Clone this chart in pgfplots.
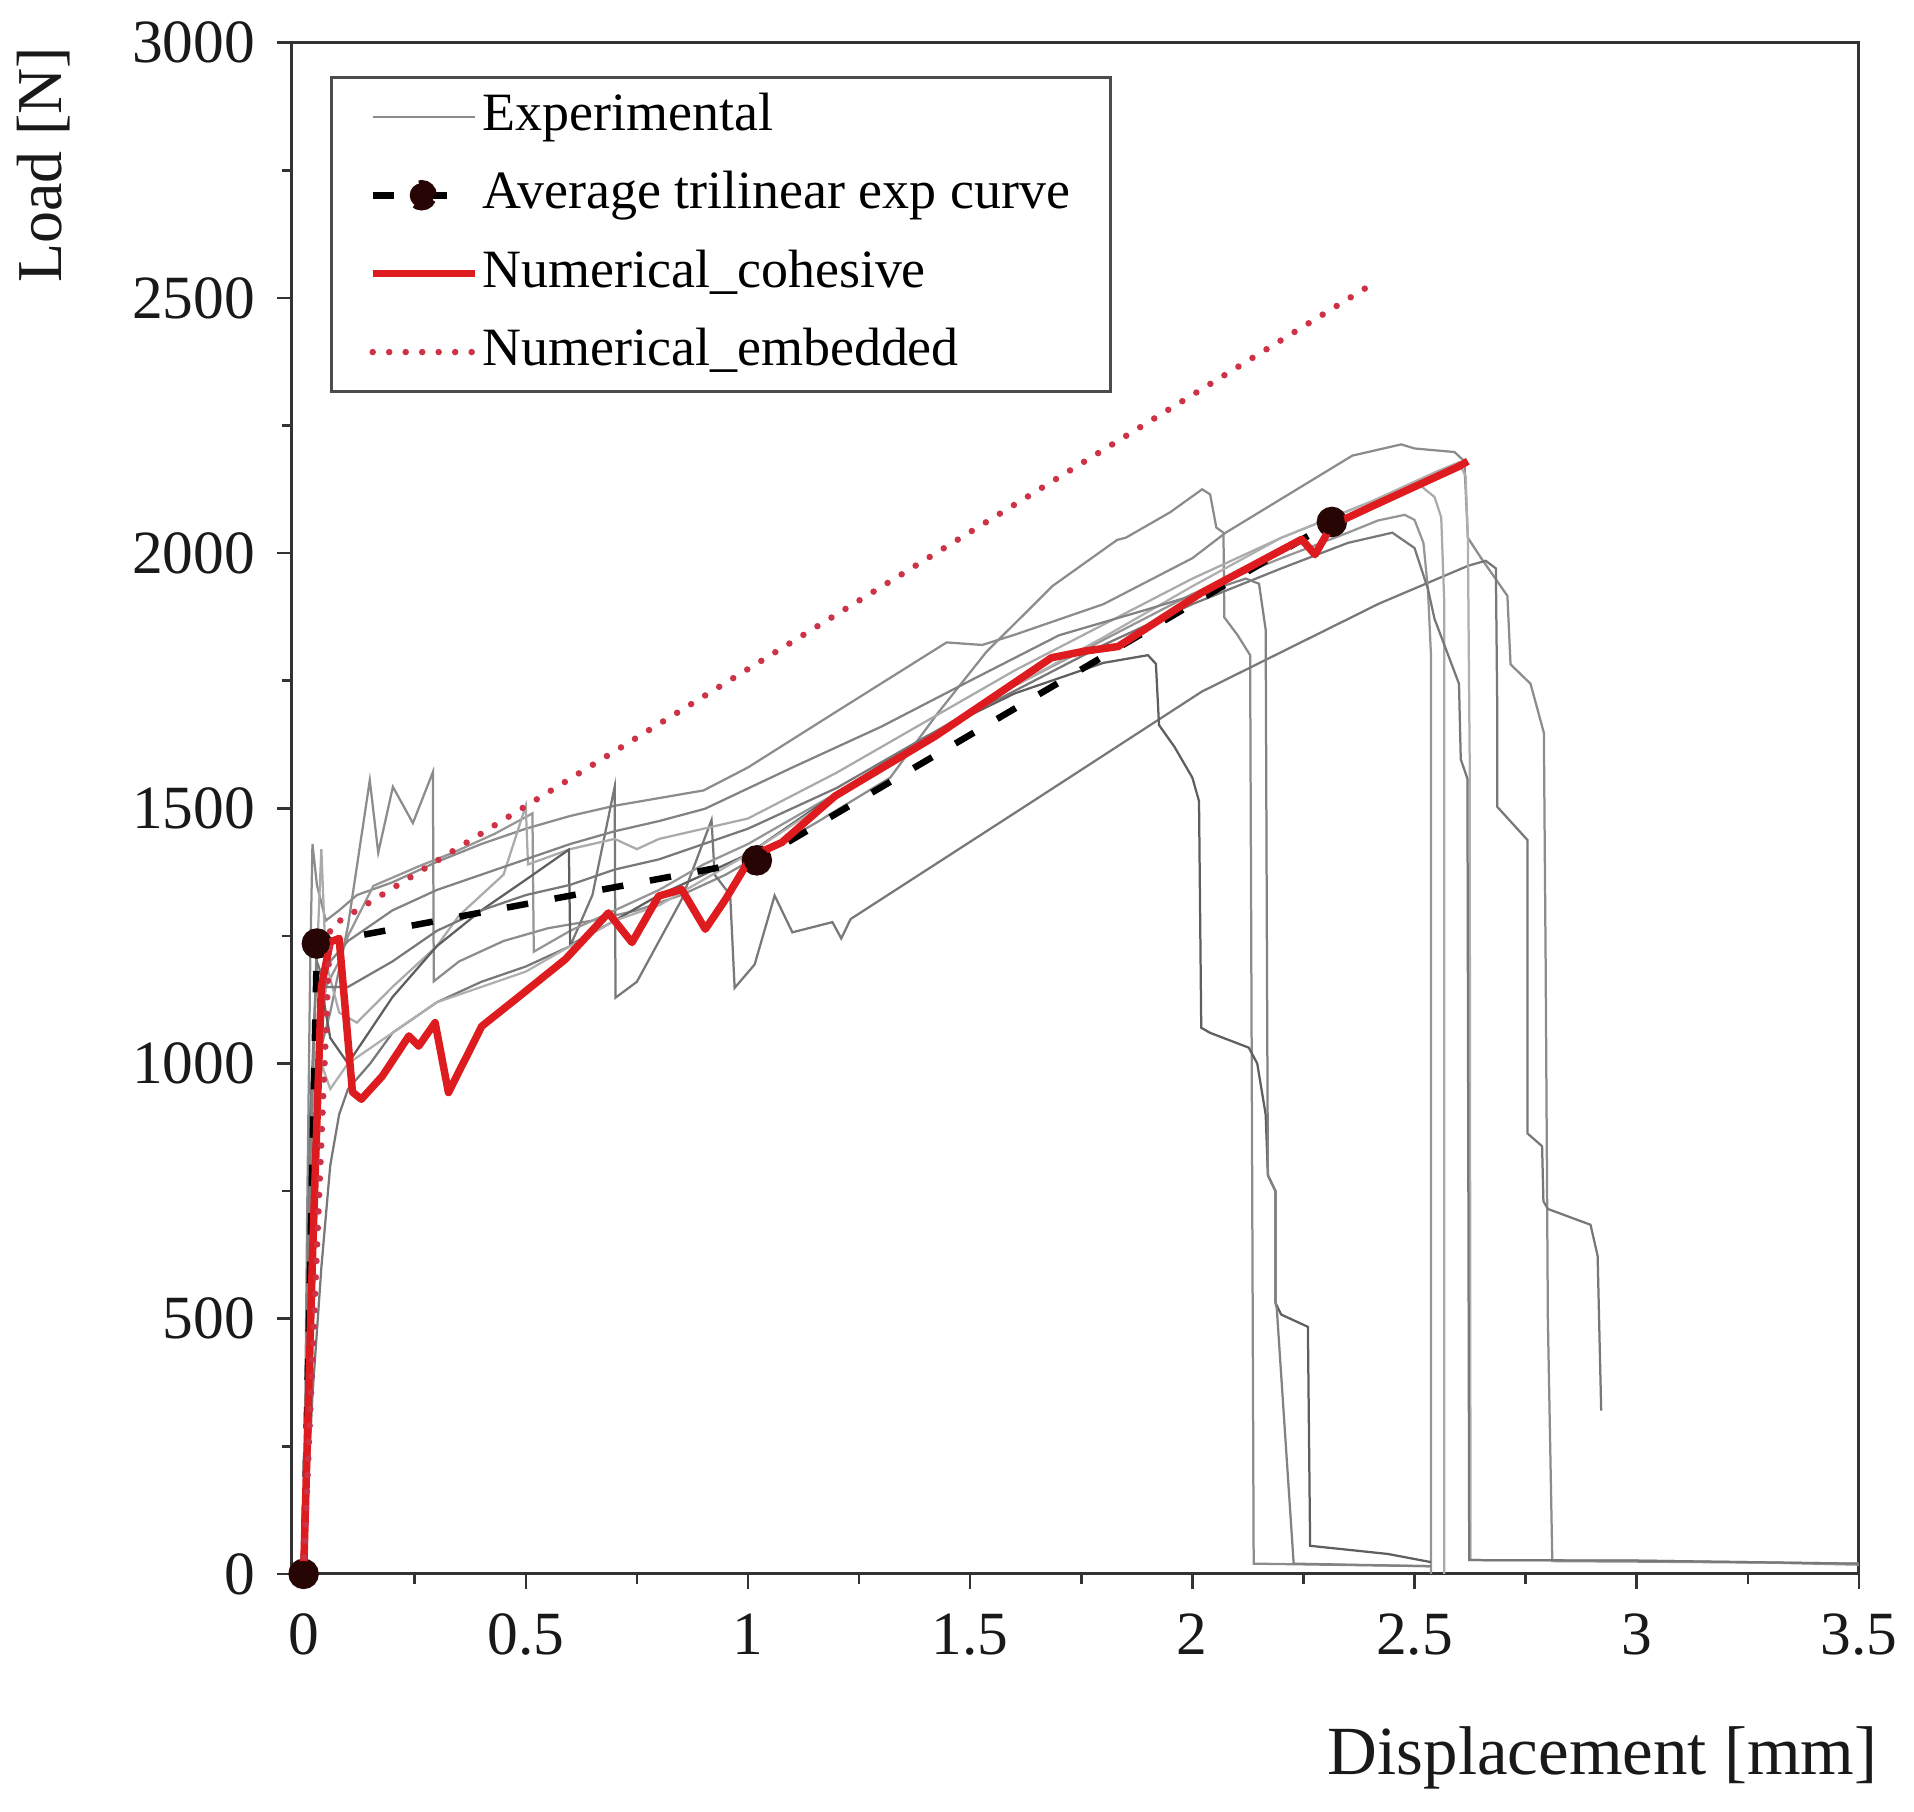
\documentclass[border=0pt]{standalone}
\usepackage{pgfplots}
\pgfplotsset{compat=1.18}
\usepackage{fontspec}
\setmainfont{Liberation Serif}
\definecolor{redc}{RGB}{222,28,32}
\definecolor{redd}{RGB}{205,50,70}
\definecolor{mk}{RGB}{40,5,5}
\definecolor{g1}{RGB}{105,105,105}
\definecolor{g2}{RGB}{140,140,140}
\definecolor{g3}{RGB}{120,120,120}
\definecolor{g4}{RGB}{150,150,150}
\definecolor{g5}{RGB}{170,170,170}
\definecolor{g6}{RGB}{95,95,95}
\definecolor{g7}{RGB}{175,175,175}
\definecolor{g8}{RGB}{130,130,130}
\pgfplotsset{expl/.style={line width=0.45pt, no markers, color=#1}}
\begin{document}
\begin{tikzpicture}
\begin{axis}[
 scale only axis, width=313.7pt, height=306.45pt,
 xmin=-0.027, xmax=3.5, ymin=0, ymax=3000,
 xtick={0,0.5,1,1.5,2,2.5,3,3.5},
 xticklabels={0,0.5,1,1.5,2,2.5,3,3.5},
 ytick={0,500,1000,1500,2000,2500,3000},
 yticklabels={0,500,1000,1500,2000,2500,3000},
 minor x tick num=1, minor y tick num=1,
 tick pos=left, tick align=outside,
 major tick length=3pt, minor tick length=2pt,
 axis line style={black!80, line width=0.6pt},
 every tick/.append style={black!80, line width=0.5pt},
 tick label style={font=\fontsize{12.3}{14}\selectfont, black!90},
 /pgf/number format/assume math mode=true,
 yticklabel style={xshift=-0.8pt},
 xticklabel style={yshift=-1.5pt},
 clip mode=individual,
 legend cell align=left,
 legend style={at={(0.0242,0.9785)}, anchor=north west, draw=black!70, line width=0.6pt, fill=white,
   inner xsep=7.6pt, inner ysep=2.8pt, row sep=5.4pt, column sep=0.4pt,
   font=\fontsize{10.8}{13}\selectfont, nodes={inner sep=0.4pt, text depth=0.2em}},
 legend image code/.code={\draw[#1] (0pt,0pt) -- (20.4pt,0pt);},
]
% E1
\addplot[expl=g2] coordinates {(0,0) (0.008,700) (0.015,1200) (0.02,1430) (0.03,1350) (0.05,1280) (0.08,1300) (0.12,1330) (0.2,1355) (0.3,1395) (0.4,1430) (0.5,1460) (0.6,1485) (0.7,1505) (0.8,1520) (0.9,1535) (1.0,1580) (1.2,1690) (1.447,1825) (1.527,1820) (1.6,1840) (1.8,1900) (2.0,1990) (2.075,2040) (2.36,2191) (2.47,2213) (2.5,2205) (2.59,2198) (2.612,2180) (2.62,2030) (2.65,1990) (2.69,1940) (2.709,1916) (2.716,1782) (2.761,1744) (2.791,1648) (2.795,1200) (2.80,500) (2.81,25) (3.0,24) (3.3,22) (3.5,18)};
\addlegendentry{Experimental}
% E2
\addplot[expl=g2, forget plot] coordinates {(0,0) (0.01,500) (0.03,1000) (0.06,1100) (0.1,1270) (0.149,1555) (0.168,1413) (0.201,1542) (0.246,1471) (0.291,1571) (0.293,1161) (0.35,1200) (0.45,1240) (0.55,1265) (0.65,1280) (0.75,1300) (0.85,1330) (0.95,1370) (1.05,1420) (1.15,1470) (1.32,1560) (1.425,1684) (1.537,1807) (1.686,1936) (1.831,2026) (1.85,2030) (1.95,2080) (2.022,2125) (2.04,2115) (2.054,2050) (2.07,2040) (2.072,1874) (2.102,1839) (2.13,1800) (2.138,20) (2.537,15)};
% E3
\addplot[expl=g3, forget plot] coordinates {(0,0) (0.02,350) (0.04,600) (0.06,800) (0.08,900) (0.1,950) (0.15,1000) (0.2,1060) (0.3,1120) (0.4,1160) (0.5,1190) (0.6,1230) (0.65,1330) (0.70,1542) (0.702,1129) (0.75,1160) (0.85,1320) (0.918,1477) (0.925,1370) (0.96,1330) (0.97,1148) (1.015,1194) (1.06,1329) (1.10,1257) (1.19,1277) (1.21,1245) (1.231,1283) (1.622,1503) (2.022,1729) (2.42,1901) (2.62,1975) (2.66,1985) (2.683,1970) (2.686,1703) (2.686,1503) (2.754,1438) (2.754,863) (2.787,838) (2.79,730) (2.80,715) (2.896,684) (2.912,623) (2.92,320)};
% E4
\addplot[expl=g4, forget plot] coordinates {(0,0) (0.01,400) (0.03,950) (0.05,1150) (0.08,1200) (0.1,1250) (0.157,1348) (0.261,1387) (0.336,1413) (0.43,1450) (0.515,1490) (0.518,1219) (0.6,1260) (0.7,1300) (0.8,1340) (0.9,1390) (1.0,1430) (1.2,1530) (1.4,1640) (1.6,1740) (1.8,1830) (2.0,1920) (2.2,1990) (2.35,2040) (2.418,2064) (2.478,2075) (2.5,2065) (2.52,2020) (2.53,1930) (2.537,1800) (2.537,0)};
% E5
\addplot[expl=g5, forget plot] coordinates {(0,0) (0.01,500) (0.025,1100) (0.04,1420) (0.05,1200) (0.08,1100) (0.12,1080) (0.2,1150) (0.3,1230) (0.35,1290) (0.4,1330) (0.45,1370) (0.5,1505) (0.505,1390) (0.6,1420) (0.7,1440) (0.75,1420) (0.8,1440) (0.9,1460) (1.0,1480) (1.2,1570) (1.4,1670) (1.6,1770) (1.8,1860) (2.0,1950) (2.2,2030) (2.4,2100) (2.48,2125) (2.515,2131) (2.545,2110) (2.56,2070) (2.567,1900) (2.567,0)};
% E6
\addplot[expl=g6, forget plot] coordinates {(0,0) (0.02,800) (0.04,1150) (0.06,1050) (0.1,1000) (0.2,1130) (0.3,1230) (0.4,1300) (0.5,1360) (0.597,1419) (0.6,1232) (0.7,1280) (0.8,1330) (0.9,1370) (1.0,1410) (1.2,1530) (1.4,1640) (1.6,1725) (1.8,1785) (1.9,1800) (1.918,1783) (1.925,1663) (1.96,1620) (2.0,1560) (2.015,1514) (2.02,1070) (2.04,1060) (2.127,1031) (2.146,1000) (2.165,900) (2.17,781) (2.187,750) (2.187,531) (2.2,508) (2.26,484) (2.265,55) (2.44,39) (2.537,23)};
% E8
\addplot[expl=g7, forget plot] coordinates {(0,0) (0.02,700) (0.04,1000) (0.06,950) (0.1,1000) (0.2,1060) (0.3,1120) (0.4,1150) (0.5,1180) (0.6,1230) (0.7,1280) (0.8,1310) (0.9,1360) (1.0,1410) (1.2,1525) (1.4,1630) (1.6,1740) (1.8,1835) (2.0,1935) (2.2,2030) (2.4,2100) (2.55,2160) (2.6,2178) (2.615,2150) (2.62,2030) (2.624,1600) (2.626,27) (3.0,26) (3.5,20)};
% E9
\addplot[expl=g3, forget plot] coordinates {(0,0) (0.015,900) (0.03,1200) (0.05,1150) (0.1,1150) (0.2,1200) (0.3,1260) (0.4,1300) (0.5,1330) (0.6,1350) (0.7,1380) (0.8,1400) (0.9,1430) (1.0,1460) (1.2,1540) (1.4,1640) (1.6,1730) (1.8,1820) (2.0,1900) (2.2,1970) (2.35,2020) (2.45,2040) (2.5,2010) (2.53,1930) (2.545,1871) (2.6,1744) (2.604,1596) (2.619,1558) (2.623,27) (3.0,26) (3.5,20)};
% E10
\addplot[expl=g8, forget plot] coordinates {(0,0) (0.015,800) (0.03,1250) (0.06,1200) (0.1,1240) (0.2,1300) (0.3,1340) (0.4,1370) (0.5,1400) (0.6,1430) (0.7,1455) (0.8,1475) (0.903,1499) (1.1,1580) (1.3,1660) (1.5,1750) (1.70,1839) (1.9,1890) (2.05,1930) (2.12,1950) (2.15,1940) (2.165,1850) (2.168,1172) (2.17,781) (2.187,750) (2.187,531) (2.19,520) (2.228,20) (2.537,15)};
% Average trilinear
\addplot[black, line width=1.3pt, dash pattern=on 4.3pt off 5.4pt, mark=*, mark size=2.4pt, mark options={solid, fill=mk, draw=mk},
  legend image code/.code={\draw[black, line width=1.3pt] (0pt,0pt) -- (4.6pt,0pt); \draw[black, line width=1.3pt] (12pt,0pt) -- (14.8pt,0pt); \fill[mk] (9.8pt,0pt) circle (2.4pt); \path (20.4pt,0pt);}]
  coordinates {(0,0) (0.03,1235) (1.02,1398) (2.314,2061)};
\addlegendentry{Average trilinear exp curve}
% Numerical cohesive
\addplot[redc, line width=1.5pt, line join=round] coordinates {(0,0) (0.02,620) (0.04,1150) (0.06,1238) (0.08,1245) (0.11,944) (0.13,930) (0.177,975) (0.237,1054) (0.259,1034) (0.296,1080) (0.326,943) (0.401,1073) (0.476,1125) (0.589,1204) (0.686,1295) (0.739,1237) (0.799,1328) (0.851,1341) (0.904,1263) (0.949,1321) (1.008,1406) (1.076,1433) (1.196,1524) (1.421,1641) (1.683,1795) (1.758,1808) (1.833,1817) (2.02,1922) (2.246,2027) (2.276,1997) (2.314,2055) (2.4,2090) (2.5,2130) (2.6,2170) (2.62,2180)};
\addlegendentry{Numerical\_cohesive}
% Numerical embedded
\addplot[redd, line width=1.3pt, line cap=round, dash pattern=on 0pt off 3.3pt] coordinates {(0,0) (0.06,1268) (2.41,2530)};
\addlegendentry{Numerical\_embedded}
\addplot[only marks, mark=*, mark size=2.4pt, mark options={fill=mk, draw=mk}, forget plot] coordinates {(0,0) (0.03,1235) (1.02,1398) (2.314,2061)};
\end{axis}
\node[rotate=90, anchor=north east, inner sep=0pt, font=\fontsize{12.8}{15}\selectfont, black!90] at ([xshift=-55.2pt,yshift=-0.6pt]current axis.north west) {Load [N]};
\node[anchor=north east, inner sep=0pt, font=\fontsize{13.8}{16}\selectfont, black!90] at ([xshift=3.9pt,yshift=-30.4pt]current axis.south east) {Displacement [mm]};
\path[use as bounding box] ([xshift=-58.36pt,yshift=-47.6pt]current axis.south west) rectangle ([xshift=10.8pt,yshift=8.55pt]current axis.north east);
\end{tikzpicture}
\end{document}
